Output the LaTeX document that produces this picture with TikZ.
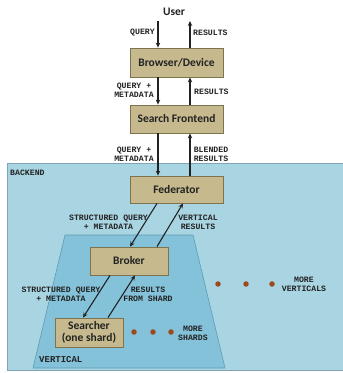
\documentclass[tikz,border=0pt]{standalone}
\usepackage{fontspec}
\setmainfont{Carlito}
\newfontfamily\monof{Liberation Mono}
\usetikzlibrary{arrows.meta}
\definecolor{boxfill}{HTML}{C5B98D}
\definecolor{boxline}{HTML}{7D734E}
\definecolor{backfill}{HTML}{A9D5E3}
\definecolor{backline}{HTML}{7FA6B6}
\definecolor{vertfill}{HTML}{84C2D9}
\definecolor{vertline}{HTML}{5E9CB5}
\definecolor{dotc}{HTML}{9C4A1C}
\definecolor{txt}{HTML}{222222}
\tikzset{
  procbox/.style={draw=boxline, line width=0.8pt, fill=boxfill, text=txt, font=\fontsize{11.5}{12}\selectfont\bfseries, align=center, inner sep=0pt},
  flow/.style={line width=1.1pt, draw=txt, -{Stealth[length=5pt,width=4.5pt]}},
  lbl/.style={font=\monof\bfseries\fontsize{8.2}{9}\selectfont, text=txt, align=center, inner sep=0pt},
  dotn/.style={circle, fill=dotc, minimum size=5.5pt, inner sep=0pt}
}
\begin{document}
\begin{tikzpicture}[x=1pt,y=-1pt]
\useasboundingbox (0,0) rectangle (343,373);
% backend
\fill[backfill] (7,163) rectangle (343,370);
\draw[backline, line width=0.8pt] (7,163) -- (343,163);
\draw[backline, line width=0.8pt] (7,163) -- (7,370) -- (343,370);
\node[lbl, anchor=west] (backendlbl) at (10,173) {BACKEND};
% vertical trapezoid
\filldraw[fill=vertfill, draw=vertline, line width=0.6pt] (65,235) -- (193,235) -- (225,368) -- (33,368) -- cycle;
\node[lbl, anchor=west, font=\monof\bfseries\fontsize{9}{10}\selectfont] (verticallbl) at (39,360) {VERTICAL};
% nodes
\node[font=\fontsize{11.5}{12}\selectfont\bfseries, text=txt] (user) at (174,12) {User};
\node[procbox, minimum width=93pt, minimum height=29pt] (browser) at (176.5,62.5) {Browser/Device};
\node[procbox, minimum width=93pt, minimum height=28pt] (frontend) at (176.5,119) {Search Frontend};
\node[procbox, minimum width=93pt, minimum height=27pt] (federator) at (176.5,189.5) {Federator};
\node[procbox, minimum width=78pt, minimum height=28pt] (broker) at (129,261) {Broker};
\node[procbox, minimum width=68pt, minimum height=29pt, font=\fontsize{11.5}{12}\selectfont\bfseries] (searcher) at (89,332.5) {Searcher\\(one shard)};
% x guides
\coordinate (qx) at (158,0);
\coordinate (rx) at (190,0);
\coordinate (utop) at (0,21);
% top arrows
\draw[flow] (qx |- utop) -- (qx |- browser.north);
\draw[flow] (rx |- browser.north) -- (rx |- utop);
\draw[flow] (qx |- browser.south) -- (qx |- frontend.north);
\draw[flow] (rx |- frontend.north) -- (rx |- browser.south);
\draw[flow] (qx |- frontend.south) -- (qx |- federator.north);
\draw[flow] (rx |- federator.north) -- (rx |- frontend.south);
% federator-broker
\coordinate (f1) at (157,203);
\coordinate (f2) at (183,203);
\coordinate (b1) at (130,247);
\coordinate (b2) at (157,247);
\draw[flow] (federator.south -| f1) -- (broker.north -| b1);
\draw[flow] (broker.north -| b2) -- (federator.south -| f2);
% broker-searcher
\coordinate (bb1) at (110,0);
\coordinate (bb2) at (135,0);
\coordinate (s1) at (83,0);
\coordinate (s2) at (108,0);
\draw[flow] (broker.south -| bb1) -- (searcher.north -| s1);
\draw[flow] (searcher.north -| s2) -- (broker.south -| bb2);
% labels
\node[lbl, anchor=east] (l1) at (155,33) {QUERY};
\node[lbl, anchor=west] (l2) at (193,33) {RESULTS};
\node[lbl] (l3) at (134,90.5) {QUERY +\\METADATA};
\node[lbl, anchor=west] (l4) at (194,92) {RESULTS};
\node[lbl] (l5) at (134,154.5) {QUERY +\\METADATA};
\node[lbl] (l6) at (211,154.5) {BLENDED\\RESULTS};
\node[lbl] (l7) at (108.5,222.5) {STRUCTURED QUERY\\+ METADATA};
\node[lbl] (l8) at (198,222.5) {VERTICAL\\RESULTS};
\node[lbl] (l9) at (61,294.5) {STRUCTURED QUERY\\+ METADATA};
\node[lbl] (l10) at (148,294.5) {RESULTS\\FROM SHARD};
\node[lbl] (l11) at (304,284.5) {MORE\\VERTICALS};
\node[lbl] (l12) at (193,333) {MORE\\SHARDS};
% dots
\node[dotn] (d1) at (218,284) {};
\node[dotn] (d2) at (246,284) {};
\node[dotn] (d3) at (272,284) {};
\node[dotn] (d4) at (134,332) {};
\node[dotn] (d5) at (153,332) {};
\node[dotn] (d6) at (171,332) {};
\end{tikzpicture}
\end{document}
